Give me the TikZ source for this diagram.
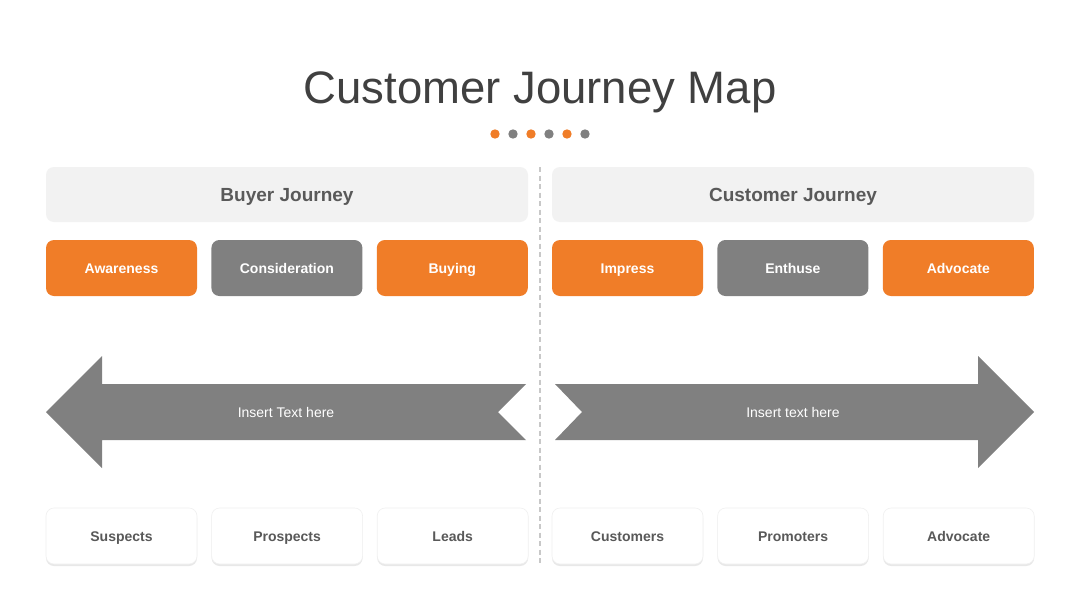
\documentclass[tikz,border=0pt]{standalone}
\usepackage{fontspec}
\setmainfont{Liberation Sans}
\usepackage{tikz}
\usetikzlibrary{calc,positioning,shadows}
\definecolor{jorange}{HTML}{F07D28}
\definecolor{jgray}{HTML}{808080}
\definecolor{jtitle}{HTML}{404040}
\definecolor{jtext}{HTML}{595959}
\definecolor{jlight}{HTML}{F2F2F2}
\definecolor{jdash}{HTML}{C8C8C8}

\begin{document}
\begin{tikzpicture}[x=1pt,y=-1pt,
  head/.style={fill=jlight,rounded corners=8pt,minimum width=482pt,minimum height=55pt,
    text height=1.38ex+6pt,text depth=0pt,
    text=jtext,font=\fontsize{19}{22}\selectfont\bfseries},
  stage/.style={rounded corners=8pt,minimum width=151pt,minimum height=56pt,
    text height=1.38ex+4pt,text depth=0pt,
    text=white,font=\fontsize{14}{16}\selectfont\bfseries},
  card/.style={fill=white,rounded corners=8pt,minimum width=151pt,minimum height=56pt,
    text height=1.38ex+4pt,text depth=0pt,
    draw=black!6,line width=0.6pt,drop shadow={shadow xshift=0pt,shadow yshift=-2pt,fill=black!25,opacity=0.35},
    text=jtext,font=\fontsize{14}{16}\selectfont\bfseries},
  arrowtext/.style={text=white,text height=1.38ex,text depth=0pt,font=\fontsize{14}{16}\selectfont}]
  \useasboundingbox[fill=white] (0,0) rectangle (1080,608);
  \node[text=jtitle,anchor=base,font=\fontsize{45.5}{50}\selectfont] (title) at (540,103) {Customer Journey Map};
  % dots under the title
  \foreach \i/\c in {0/jorange,1/jgray,2/jorange,3/jgray,4/jorange,5/jgray}
    \fill[\c] ($(495,134)+(18*\i,0)$) circle (4.7pt);
  % divider
  \coordinate (D1) at (540,167);
  \coordinate (D2) at (540,564);
  \draw[jdash,line width=1.6pt,dash pattern=on 5pt off 3.5pt] (D1) -- (D2);
  % headers
  \node[head] (buyer) at (287,194.5) {Buyer Journey};
  \node[head] (customer) at (793,194.5) {Customer Journey};
  % stages
  \node[stage,fill=jorange] (aware) at (121.5,268) {Awareness};
  \node[stage,fill=jgray,right=14pt of aware] (consid) {Consideration};
  \node[stage,fill=jorange,right=14pt of consid] (buying) {Buying};
  \node[stage,fill=jorange] (impress) at (627.5,268) {Impress};
  \node[stage,fill=jgray,right=14pt of impress] (enthuse) {Enthuse};
  \node[stage,fill=jorange,right=14pt of enthuse] (advocate) {Advocate};
  % arrows
  \fill[jgray] (46,412) -- (102,356) -- (102,384) -- (526,384) -- (498,412)
    -- (526,440) -- (102,440) -- (102,468) -- cycle;
  \fill[jgray] (555,384) -- (978,384) -- (978,356) -- (1034,412) -- (978,468)
    -- (978,440) -- (555,440) -- (582,412) -- cycle;
  \node[arrowtext] (ltext) at (286,414) {Insert Text here};
  \node[arrowtext] (rtext) at (793,414) {Insert text here};
  % bottom cards
  \node[card] (suspects) at (121.5,536) {Suspects};
  \node[card,right=14pt of suspects] (prospects) {Prospects};
  \node[card,right=14pt of prospects] (leads) {Leads};
  \node[card] (customers) at (627.5,536) {Customers};
  \node[card,right=14pt of customers] (promoters) {Promoters};
  \node[card,right=14pt of promoters] (advocate2) {Advocate};
\end{tikzpicture}
\end{document}
